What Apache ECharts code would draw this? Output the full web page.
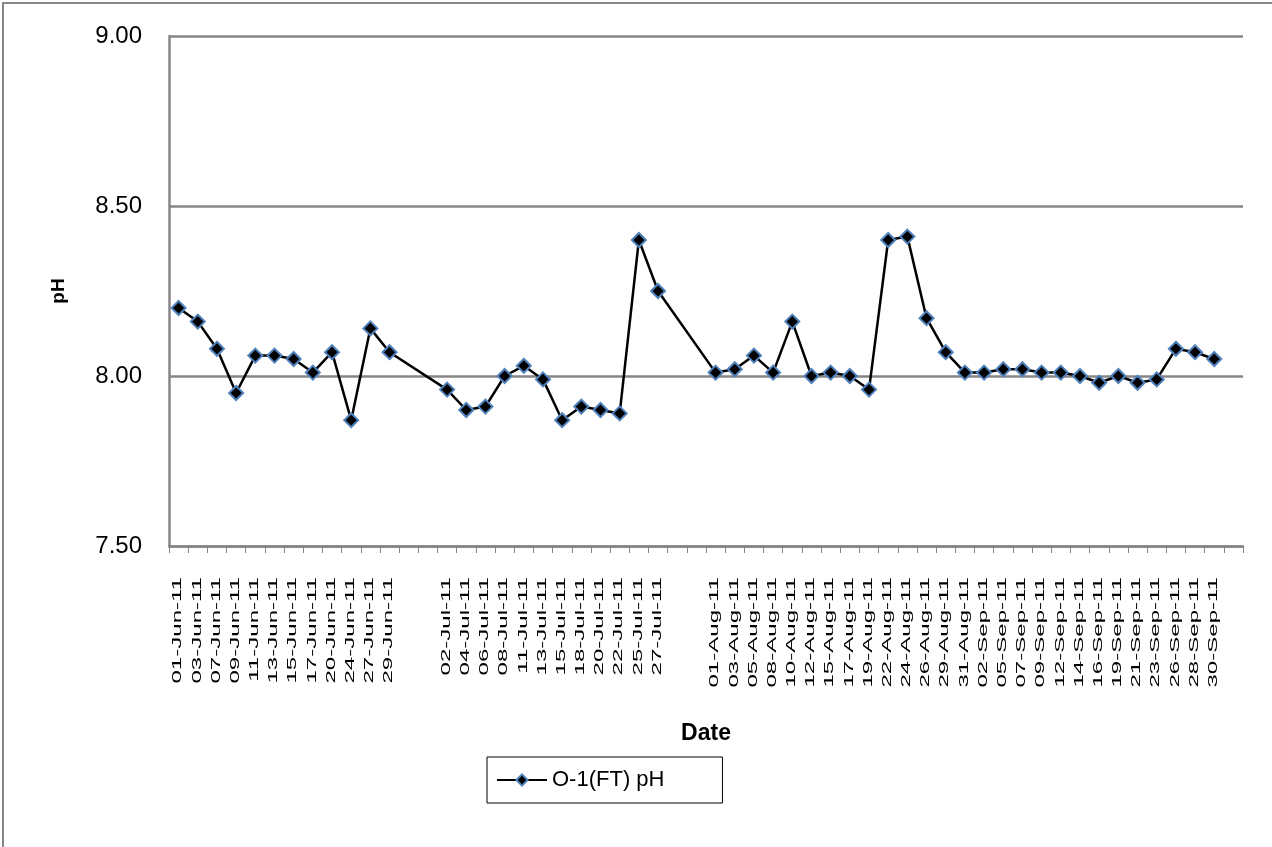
<!DOCTYPE html>
<html>
<head>
<meta charset="utf-8">
<script src="https://cdn.jsdelivr.net/npm/echarts@6/dist/echarts.min.js"></script>
<style>
  html, body { margin: 0; padding: 0; background: #fff; }
  #chart { width: 1272px; height: 847px; }
</style>
</head>
<body>
<div id="chart"></div>
<script>
const categories = [
  '01-Jun-11','03-Jun-11','07-Jun-11','09-Jun-11','11-Jun-11','13-Jun-11','15-Jun-11','17-Jun-11','20-Jun-11','24-Jun-11','27-Jun-11','29-Jun-11','','',
  '02-Jul-11','04-Jul-11','06-Jul-11','08-Jul-11','11-Jul-11','13-Jul-11','15-Jul-11','18-Jul-11','20-Jul-11','22-Jul-11','25-Jul-11','27-Jul-11','','',
  '01-Aug-11','03-Aug-11','05-Aug-11','08-Aug-11','10-Aug-11','12-Aug-11','15-Aug-11','17-Aug-11','19-Aug-11','22-Aug-11','24-Aug-11','26-Aug-11','29-Aug-11','31-Aug-11',
  '02-Sep-11','05-Sep-11','07-Sep-11','09-Sep-11','12-Sep-11','14-Sep-11','16-Sep-11','19-Sep-11','21-Sep-11','23-Sep-11','26-Sep-11','28-Sep-11','30-Sep-11',''
];
const phValues = [
  8.20,8.16,8.08,7.95,8.06,8.06,8.05,8.01,8.07,7.87,8.14,8.07,null,null,
  7.96,7.90,7.91,8.00,8.03,7.99,7.87,7.91,7.90,7.89,8.40,8.25,null,null,
  8.01,8.02,8.06,8.01,8.16,8.00,8.01,8.00,7.96,8.40,8.41,8.17,8.07,8.01,
  8.01,8.02,8.02,8.01,8.01,8.00,7.98,8.00,7.98,7.99,8.08,8.07,8.05,null
];
const seriesName = 'O-1(FT) pH';
const yMin = 7.5, yMax = 9.0, yStep = 0.5;

const FONT = '"Liberation Sans", Arial, sans-serif';
const GRAY = '#868686';

const chart = echarts.init(document.getElementById('chart'), null, { renderer: 'canvas' });

const option = {
  animation: false,
  backgroundColor: '#fff',
  grid: { left: 169, right: 29, top: 36, bottom: 301, containLabel: false },
  legend: {
    show: true,
    left: 487,
    top: 757,
    data: [seriesName],
    itemWidth: 50,
    itemHeight: 14,
    padding: [12, 58, 12, 9],
    borderColor: '#000',
    borderWidth: 1,
    textStyle: { fontFamily: FONT, fontSize: 22, color: '#000' }
  },
  xAxis: {
    type: 'category',
    data: categories,
    boundaryGap: true,
    name: 'Date',
    nameLocation: 'middle',
    nameGap: 176,
    nameTextStyle: { fontFamily: FONT, fontSize: 23, fontWeight: 'bold', color: '#000' },
    axisLine: { show: true, lineStyle: { color: GRAY, width: 2.5 } },
    axisTick: { show: true, interval: 0, length: 7, alignWithLabel: false, lineStyle: { color: GRAY, width: 1 } },
    axisLabel: { show: false, interval: 0 },
    splitLine: { show: false }
  },
  yAxis: {
    type: 'value',
    min: yMin,
    max: yMax,
    interval: yStep,
    name: 'pH',
    nameLocation: 'middle',
    nameRotate: 90,
    nameGap: 101,
    nameTextStyle: { fontFamily: FONT, fontSize: 19, fontWeight: 'bold', color: '#000' },
    axisLine: { show: true, lineStyle: { color: GRAY, width: 2.5 } },
    axisTick: { show: false },
    axisLabel: {
      margin: 27,
      fontFamily: FONT,
      fontSize: 24,
      color: '#000',
      formatter: v => v.toFixed(2)
    },
    splitLine: { show: true, lineStyle: { color: GRAY, width: 2.5 } }
  },
  series: [{
    name: seriesName,
    type: 'line',
    data: phValues,
    connectNulls: true,
    symbol: 'diamond',
    symbolSize: 14,
    showAllSymbol: true,
    lineStyle: { color: '#000', width: 2.5 },
    itemStyle: { color: '#000', borderColor: '#4F81BD', borderWidth: 2 }
  }]
};

chart.setOption(option);

// Category tick labels, rotated, positioned through the axis scale
const labelGraphics = [];
categories.forEach((c, i) => {
  if (!c) return;
  const x = chart.convertToPixel({ xAxisIndex: 0 }, i);
  labelGraphics.push({
    type: 'text',
    x: x - 1,
    y: 577,
    rotation: Math.PI / 2,
    scaleX: 1.85,
    scaleY: 1.05,
    silent: true,
    style: {
      text: c,
      font: '13px ' + FONT,
      fill: '#000',
      align: 'right',
      verticalAlign: 'middle'
    }
  });
});

chart.setOption({
  graphic: [
    {
      type: 'rect',
      shape: { x: 3, y: 3, width: 1400, height: 1000 },
      silent: true,
      z: -10,
      style: { fill: 'none', stroke: GRAY, lineWidth: 2 }
    }
  ].concat(labelGraphics)
});
</script>
</body>
</html>
